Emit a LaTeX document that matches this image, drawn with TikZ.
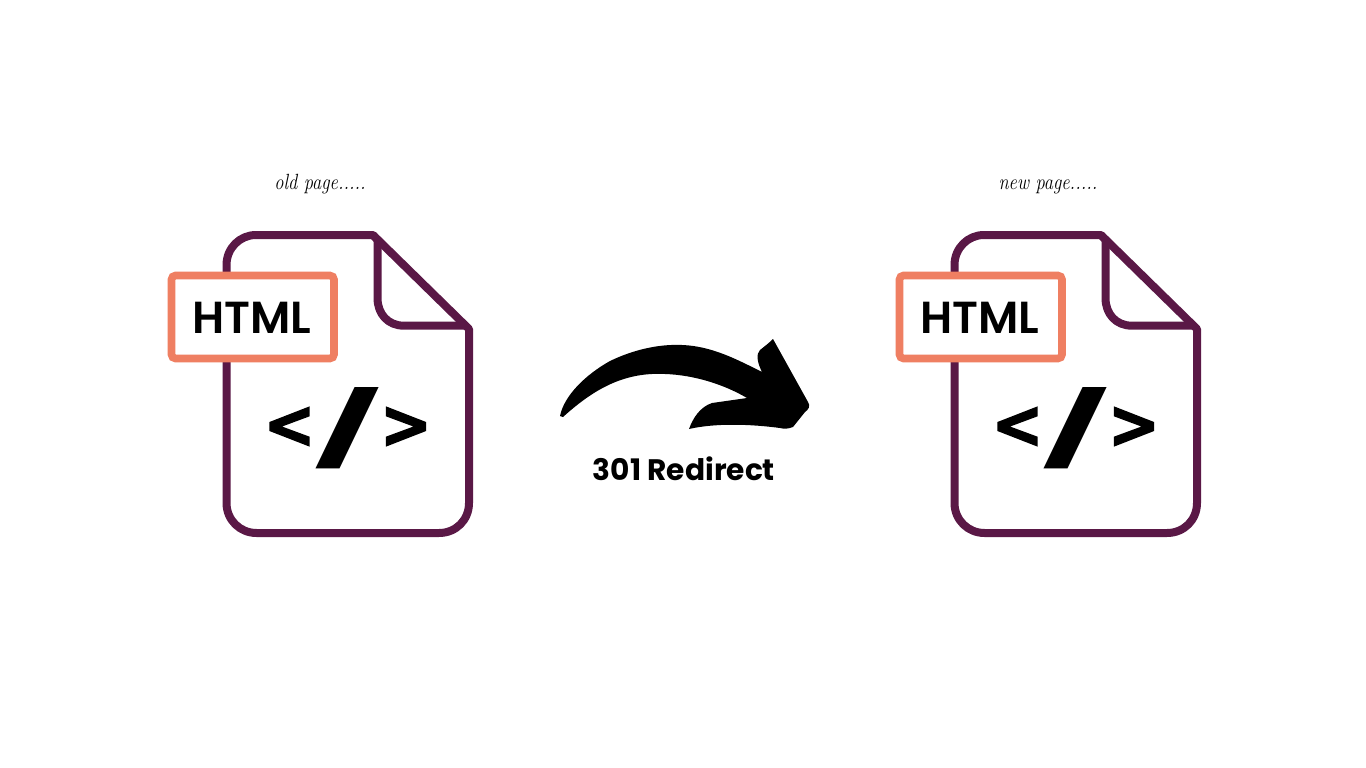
\documentclass[tikz,border=0pt]{standalone}
\usepackage{fontspec}
\setmainfont{Poppins}
\newfontfamily\boldface{Poppins SemiBold}
\newfontfamily\heavyface{Poppins}[BoldFont=Poppins Bold]
\newfontfamily\wedgeface{DejaVu Sans Bold}[FakeBold=2.5]
\newfontfamily\handface{Latin Modern Roman}
\definecolor{filepurple}{HTML}{5A1846}
\definecolor{tagcoral}{HTML}{EF7F62}
\tikzset{
  x=1pt,y=-1pt,
  fileline/.style={draw=filepurple,line width=8pt,line join=round,fill=white},
  foldline/.style={draw=filepurple,line width=8pt,line join=round},
  tagbox/.style={draw=tagcoral,line width=7.6pt,fill=white,rounded corners=4pt},
  tagtext/.style={inner sep=0pt,font=\boldface},
  codeglyph/.style={inner sep=0pt,font=\bfseries},
  wedgeglyph/.style={inner sep=0pt,font=\wedgeface},
  handnote/.style={inner sep=0pt,anchor=base,font=\handface\itshape\fontsize{22}{24}\selectfont},
  redirect/.style={inner sep=0pt,font=\heavyface\bfseries},
  bigarrow/.style={fill=black,draw=none}
}
\begin{document}
\begin{tikzpicture}
\useasboundingbox (0,0) rectangle (1366,768);
\fill[white] (0,0) rectangle (1366,768);
\foreach \dx/\lab/\tag in {0/old/a,728/new/b}{
\begin{scope}[shift={(\dx,0)}]
  \draw[fileline] (373,235) -- (256,235) .. controls (240,235) and (226.5,248) .. (226.5,265)
     -- (226.5,503) .. controls (226.5,520) and (240,533) .. (256.5,533)
     -- (439,533) .. controls (456,533) and (469,520) .. (469,503)
     -- (469,329) -- cycle;
  \draw[foldline] (373,235) -- (377.5,240) -- (377.5,298) .. controls (377.5,314) and (388,325.7) .. (404,325.7) -- (464,325.7);
  \draw[tagbox] (171.5,275.5) rectangle (334,358.5);
  \node[tagtext] (html\tag) at (252,317.5) {\resizebox{119pt}{!}{HTML}};
  \node[handnote] (note\tag) at (320,189) {\scalebox{.84}[1]{\lab{} page.....}};
  \node[wedgeglyph] (lt\tag) at (289.5,427.5) {\resizebox{52pt}{40pt}{<}};
  \node[codeglyph] (sl\tag) at (348,428.5) {\resizebox{66pt}{68pt}{/}};
  \node[wedgeglyph] (gt\tag) at (406,427.5) {\resizebox{52pt}{40pt}{>}};
\end{scope}
}
\fill[bigarrow] (560,416) .. controls (564,396) and (585,375) .. (610,361)
  .. controls (635,349) and (660,344) .. (682,345)
  .. controls (712,346) and (738,360) .. (762,372)
  .. controls (757,362) and (756,354) .. (760,350)
  .. controls (765,346) and (769,343) .. (773,339) -- (808,402)
  .. controls (811,406) and (808,410) .. (805,412)
  -- (793,427) .. controls (788,429) and (784,429) .. (780,428)
  .. controls (750,424) and (715,423) .. (689,429)
  .. controls (693,418) and (700,407) .. (712,403)
  -- (747,398)
  .. controls (725,385) and (695,375) .. (665,374)
  .. controls (625,372) and (595,388) .. (563,417)
  .. controls (562,417) and (561,417) .. (560,416) -- cycle;
\node[redirect] (label) at (684,468.5) {\resizebox{182pt}{!}{301 Redirect}};
\end{tikzpicture}
\end{document}
